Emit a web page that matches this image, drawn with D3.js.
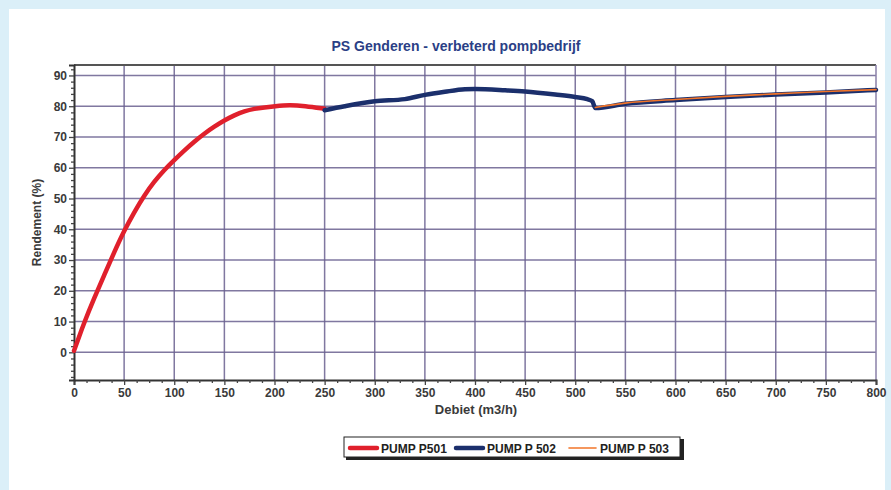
<!DOCTYPE html>
<html>
<head>
<meta charset="utf-8">
<script src="https://cdn.jsdelivr.net/npm/d3@7"></script>
<style>
  html, body { margin: 0; padding: 0; background: #dbeff8; }
  svg { display: block; }
</style>
</head>
<body>
<script>
/* values */
var p501_x = [0, 5, 10, 20, 30, 40, 50, 60, 70, 80, 90, 100, 110, 120, 130, 140, 150, 160, 170, 180, 190, 200, 215, 230, 250];
var p501_y = [0.5, 5, 9.5, 17.5, 25, 32.5, 39.5, 45.5, 51, 55.5, 59.3, 62.5, 65.6, 68.5, 71.1, 73.4, 75.4, 77.1, 78.4, 79.2, 79.6, 80, 80.5, 80.1, 79.2];

var p502_x = [250, 270, 300, 330, 350, 370, 390, 400, 430, 450, 480, 500, 512, 517, 520, 550, 600, 650, 700, 750, 800];
var p502_y = [78.7, 80, 81.6, 82.3, 83.7, 84.7, 85.5, 85.6, 85.2, 84.8, 83.8, 83, 82.3, 81.6, 79.4, 80.8, 82, 83, 83.8, 84.5, 85.3];

var p503_x = [520, 550, 600, 650, 700, 750, 800];
var p503_y = [79.6, 81, 82.2, 83.2, 84, 84.8, 85.4];

var x_ticks = [0, 50, 100, 150, 200, 250, 300, 350, 400, 450, 500, 550, 600, 650, 700, 750, 800];
var y_ticks = [0, 10, 20, 30, 40, 50, 60, 70, 80, 90];
var series_names = ['PUMP P501', 'PUMP P 502', 'PUMP P 503'];
var series_colors = ['#e0202c', '#1b2f6c', '#f2752a'];

var width = 891,
    height = 490,
    plot_left = 74,
    plot_right = 876,
    plot_top = 65,
    plot_bottom = 380;

var font = '"Liberation Sans Narrow", "Liberation Sans", Arial, sans-serif';

var svg = d3.select('body').append('svg')
    .attr('width', width)
    .attr('height', height);

/* white panel */
svg.append('rect')
    .attr('x', 9).attr('y', 9)
    .attr('width', 876).attr('height', height - 9)
    .attr('fill', '#ffffff');

var x = d3.scaleLinear().domain([0, 800]).range([plot_left, plot_right]);
var y = d3.scaleLinear().domain([-9, 93.4]).range([plot_bottom, plot_top]);

/* grid */
var grid_color = '#6a6190';
svg.append('g').selectAll('line').data(x_ticks.slice(1, -1)).enter().append('line')
    .attr('x1', d => x(d)).attr('x2', d => x(d))
    .attr('y1', plot_top).attr('y2', plot_bottom)
    .attr('stroke', grid_color).attr('stroke-width', 1.5).attr('opacity', 0.85);
svg.append('g').selectAll('line').data(y_ticks).enter().append('line')
    .attr('x1', plot_left).attr('x2', plot_right)
    .attr('y1', d => y(d)).attr('y2', d => y(d))
    .attr('stroke', grid_color).attr('stroke-width', 1.5).attr('opacity', 0.85);

/* frame: top and right */
svg.append('line').attr('x1', plot_left).attr('x2', plot_right).attr('y1', plot_top).attr('y2', plot_top)
    .attr('stroke', '#555').attr('stroke-width', 2);
svg.append('line').attr('x1', plot_right).attr('x2', plot_right).attr('y1', plot_top).attr('y2', plot_bottom)
    .attr('stroke', '#8a80a8').attr('stroke-width', 1.5);

/* axes */
svg.append('g')
    .attr('transform', 'translate(0,' + plot_bottom + ')')
    .call(d3.axisBottom(x).tickValues(x_ticks).tickSize(5).tickPadding(3));
svg.append('g')
    .attr('transform', 'translate(0,' + plot_bottom + ')')
    .call(d3.axisBottom(x).tickValues(d3.range(0, 801, 12.5).filter(d => d % 50 != 0)).tickSize(3).tickFormat(''))
    .select('.domain').remove();

svg.append('g')
    .attr('transform', 'translate(' + plot_left + ',0)')
    .call(d3.axisLeft(y).tickValues(y_ticks).tickSize(5).tickPadding(2));
svg.append('g')
    .attr('transform', 'translate(' + plot_left + ',0)')
    .call(d3.axisLeft(y).tickValues(d3.range(-8, 93, 2).filter(d => d % 10 != 0)).tickSize(3).tickFormat(''))
    .select('.domain').remove();

svg.selectAll('.domain').attr('stroke', '#333').attr('stroke-width', 2);
svg.selectAll('.tick line').attr('stroke', '#444').attr('stroke-width', 1.3);
svg.selectAll('.tick text')
    .style('font-family', font).style('font-size', '12px').style('font-weight', 'bold')
    .attr('fill', '#3a3a3a');

/* series */
var smooth = d3.line().x(d => x(d[0])).y(d => y(d[1])).curve(d3.curveBasis);
var mono = d3.line().x(d => x(d[0])).y(d => y(d[1])).curve(d3.curveMonotoneX);
var series = [
    d3.zip(p501_x, p501_y),
    d3.zip(p502_x, p502_y),
    d3.zip(p503_x, p503_y)
];
var widths = [4.5, 4.5, 1.6];
var shapes = [smooth, mono, mono];
series.forEach(function(s, i) {
    svg.append('path')
        .datum(s)
        .attr('d', shapes[i])
        .attr('fill', 'none')
        .attr('stroke', series_colors[i])
        .attr('stroke-width', widths[i])
        .attr('stroke-linejoin', 'round')
        .attr('stroke-linecap', 'round');
});

/* titles */
svg.append('text')
    .attr('x', 456).attr('y', 51)
    .attr('text-anchor', 'middle')
    .style('font-family', font).style('font-size', '14px').style('font-weight', 'bold')
    .attr('fill', '#2b3f86')
    .text('PS Genderen - verbeterd pompbedrijf');

svg.append('text')
    .attr('transform', 'translate(41,' + ((plot_top + plot_bottom) / 2) + ') rotate(-90)')
    .attr('text-anchor', 'middle')
    .style('font-family', font).style('font-size', '12px').style('font-weight', 'bold')
    .attr('fill', '#3a3a3a')
    .text('Rendement (%)');

svg.append('text')
    .attr('x', 476).attr('y', 414)
    .attr('text-anchor', 'middle')
    .style('font-family', font).style('font-size', '13px').style('font-weight', 'bold')
    .attr('fill', '#3a3a3a')
    .text('Debiet (m3/h)');

/* legend */
var legend = svg.append('g').attr('transform', 'translate(344,437)');
legend.append('rect').attr('x', 2).attr('y', 2).attr('width', 338).attr('height', 21).attr('fill', '#222');
legend.append('rect').attr('x', 0).attr('y', 0).attr('width', 336).attr('height', 20)
    .attr('fill', '#fff').attr('stroke', '#222').attr('stroke-width', 1);
var legend_x = [6, 112, 225];
var legend_w = [4.5, 4.5, 1.6];
series_names.forEach(function(name, i) {
    legend.append('line')
        .attr('x1', legend_x[i]).attr('x2', legend_x[i] + 27)
        .attr('y1', 11).attr('y2', 11)
        .attr('stroke', series_colors[i]).attr('stroke-width', legend_w[i])
        .attr('stroke-linecap', 'round');
    legend.append('text')
        .attr('x', legend_x[i] + 31).attr('y', 15.5)
        .style('font-family', font).style('font-size', '12px').style('font-weight', 'bold')
        .attr('fill', '#222')
        .text(name);
});
</script>
</body>
</html>
